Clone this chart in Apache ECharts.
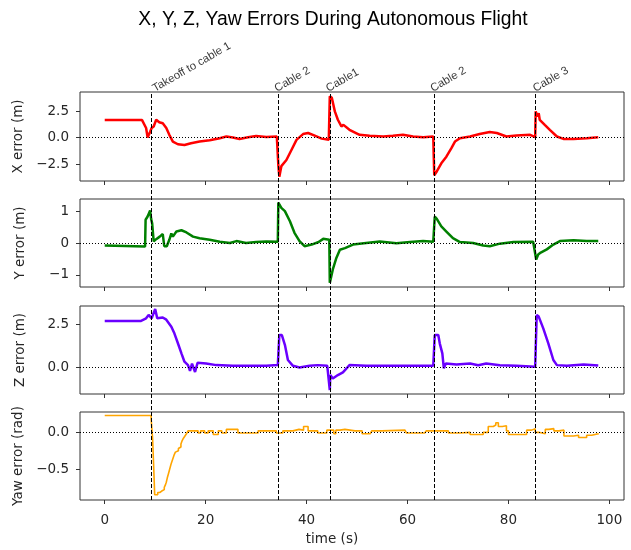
<!DOCTYPE html>
<html>
<head>
<meta charset="utf-8">
<script src="https://cdn.jsdelivr.net/npm/echarts@6/dist/echarts.min.js"></script>
<style>html,body{margin:0;padding:0;background:#fff}#c{width:631px;height:550px}</style>
</head>
<body>
<div id="c"></div>
<script>
// ---- data ----
const xErrT = [0,7.4,8.2,8.5,9.0,9.3,9.7,10.2,10.8,11.5,12.2,12.8,13.5,14.5,15.8,17.1,18.8,20.8,22.8,24.1,25.4,26.7,28.4,30,32,34.1,34.4,34.6,35,36,37,38,39.3,40.3,41.5,43,44.4,44.6,45,45.6,46.2,46.9,47.3,48.5,50.5,52.5,55.2,57.1,59.1,61.1,63.1,65.1,65.3,65.8,66.7,67.7,68.7,69.4,70.4,72.4,74.3,76.3,77.7,79.6,81.6,84.3,85.3,85.4,85.7,86.0,86.2,87.2,88.2,89.6,90.9,92.9,95.5,97.8];
const xErrV = [1.65,1.65,0.9,0.0,0.55,0.9,1.05,1.68,1.45,1.35,0.9,0.26,-0.38,-0.63,-0.7,-0.53,-0.38,-0.25,-0.06,0.1,0.0,-0.13,0.03,0.15,0.06,0.1,-2.6,-3.7,-2.7,-2.12,-1.17,-0.22,0.33,0.43,0.2,-0.1,-0.2,3.9,3.75,2.47,1.68,1.05,1.2,0.73,0.26,0.16,0.1,0.16,0.26,0.1,0.03,0.1,-3.55,-3.2,-2.43,-1.8,-1.0,-0.38,-0.06,0.1,0.33,0.52,0.43,0.1,0.2,0.26,0.03,2.47,1.99,2.3,1.68,1.2,0.73,0.1,-0.13,-0.13,-0.06,0.03];

const yErrT = [0,8.0,8.1,8.5,9.0,9.2,9.4,9.7,10.2,10.9,11.5,11.8,12.3,12.8,13.2,13.5,14.2,15.2,16.2,17.5,18.8,20.8,22.8,24.8,26.1,28,30,32,34.3,34.4,35,35.7,36.7,37.6,38.6,39.6,41,42.4,43.3,44.5,44.6,44.9,45.2,45.9,46.6,47.6,49.2,51.8,54.5,57.8,60.5,63.1,65.1,65.4,65.8,66.7,67.7,69,70.4,73,75,76.3,78.3,81,84.9,85.5,85.9,86.4,87.6,88.9,90.2,92.9,95.5,97.8];
const yErrV = [-0.08,-0.11,0.73,0.83,1.02,0.75,0.62,0.05,0.12,0.2,0.28,-0.1,-0.1,0.1,0.3,0.2,0.36,0.4,0.33,0.2,0.15,0.1,0.04,0.0,0.06,0.0,0.03,0.05,0.04,1.27,1.1,1.0,0.68,0.32,0.06,-0.1,-0.05,0.03,0.13,0.1,-1.25,-1.2,-0.83,-0.47,-0.21,-0.16,-0.05,0.0,0.05,-0.01,0.03,0.06,0.04,0.83,0.76,0.52,0.36,0.15,0.03,0.0,-0.08,-0.1,-0.02,0.03,0.04,-0.52,-0.36,-0.3,-0.2,-0.05,0.06,0.09,0.06,0.06];

const zErrT = [0,7.1,8.2,8.7,9.3,10.0,10.4,11.5,12.2,13.2,13.8,14.5,15.2,15.8,16.5,16.9,17.3,17.9,18.4,20.1,22.1,25.4,28.7,32,34.3,34.6,35.1,35.7,36.3,37.3,38.6,40.6,42.2,44.1,44.6,44.7,45.2,46.2,47.2,48.5,51.8,55.2,58.5,61.8,65.1,65.4,66.1,66.4,66.9,67.2,67.6,69.7,72.4,74,75.6,78.3,81.6,85.3,85.6,86,86.9,87.9,88.9,89.6,91.6,94.9,97.8];
const zErrV = [2.69,2.69,2.85,3.05,2.85,3.4,2.85,2.9,2.77,2.36,1.97,1.39,0.8,0.31,0.11,-0.23,0.2,-0.29,0.25,0.21,0.11,0.07,0.07,0.07,0.11,1.87,1.87,1.3,0.41,0.07,-0.03,0.07,0.11,0.07,-1.35,-0.47,-0.67,-0.47,-0.31,0.11,0.07,0.07,0.07,0.07,0.07,1.87,1.87,1.37,0.8,-0.08,0.2,0.15,0.2,0.1,0.2,0.1,0.07,0.01,3.04,2.95,2.26,1.38,0.41,0.11,0.07,0.15,0.09];

const yawErrT = [0,8.7,9.2,9.5,9.7,9.9,10.2,10.5,10.9,11.3,11.5,11.8,12.0,12.2,12.4,12.6,12.8,13.0,13.2,13.4,13.6,13.8,14.0,14.3,14.6,14.9,15.1,15.3,15.6,15.9,16.2,16.5,17.5,18.5,19.0,19.8,20.5,21.5,22.5,23.2,24.1,25.4,26.4,30,30.4,33.3,34,35.3,37.3,38.5,39.4,40.3,42.2,43.6,44.0,45.4,45.8,46.6,47.6,49.6,51,52.6,52.9,54.9,59.5,59.8,63.4,63.7,67.7,68.1,70.4,72.4,73.7,75,76,77,77.5,78,78.8,79.6,80,82.9,83.6,84.6,85.3,86,87.3,88,89,90,91,91.6,92.9,93.9,95.5,96.5,97.8];
const yawErrV = [0.23,0.23,0.18,-0.1,-0.47,-0.85,-0.85,-0.82,-0.8,-0.8,-0.78,-0.75,-0.72,-0.68,-0.62,-0.57,-0.52,-0.47,-0.42,-0.38,-0.34,-0.3,-0.27,-0.25,-0.22,-0.2,-0.16,-0.12,-0.08,-0.05,-0.02,0.02,0.02,-0.01,0.02,-0.01,0.02,-0.03,0.02,-0.01,0.04,0.04,-0.01,-0.01,0.02,0.02,-0.01,0.02,0.04,0.03,0.08,0.02,-0.01,-0.01,0.03,-0.02,0.03,0.04,0.02,0.02,-0.02,-0.02,0.02,0.03,0.02,-0.01,-0.01,0.02,0.02,-0.01,0.0,-0.03,-0.03,0.0,0.08,0.1,0.13,0.08,0.09,0.02,-0.03,-0.03,0.03,0.05,0.0,-0.02,0.04,0.05,0.02,0.03,-0.05,-0.05,-0.04,-0.07,-0.04,-0.02,-0.03];

const eventTimes = [9.2, 34.4, 44.6, 65.3, 85.4];
const eventLabels = ['Takeoff to cable 1', 'Cable 2', 'Cable1', 'Cable 2', 'Cable 3'];
const eventLabelTimes = [9.2, 33.4, 43.6, 64.3, 84.6];

const xTicks = [0, 20, 40, 60, 80, 100];
const yTicksX = [-2.5, 0, 2.5];
const yTicksY = [-1, 0, 1];
const yTicksZ = [0, 2.5];
const yTicksYaw = [-0.5, 0];
const yNames = ['X error (m)', 'Y error (m)', 'Z error (m)', 'Yaw error (rad)'];

// ---- chart ----
const pair = (t, v) => t.map((x, i) => [x, v[i]]);
const series = [pair(xErrT, xErrV), pair(yErrT, yErrV), pair(zErrT, zErrV), pair(yawErrT, yawErrV)];
const colors = ['#ff0000', '#008000', '#6a00ff', '#ffa500'];
const widths = [2.5, 2.5, 2.5, 1.6];
const ranges = [[-4.1, 4.3], [-1.38, 1.38], [-1.58, 3.57], [-0.922, 0.277]];
const yTicks = [yTicksX, yTicksY, yTicksZ, yTicksYaw];
const gridTops = [92, 199, 306, 412];
const gridH = [89, 88, 88, 88];
const X_MIN = -4.9, X_MAX = 102.9;
const tickFont = {fontFamily: 'DejaVu Sans', fontSize: 13.5, color: '#262626'};

const grid = [], xAxis = [], yAxis = [], s = [];
for (let i = 0; i < 4; i++) {
  grid.push({left: 80, right: 7, top: gridTops[i], height: gridH[i], show: true, borderColor: '#333', borderWidth: 1, backgroundColor: 'transparent'});
  xAxis.push({type: 'value', gridIndex: i, min: X_MIN, max: X_MAX, position: 'bottom',
    axisLine: {show: false, onZero: false}, splitLine: {show: false},
    axisTick: {show: true, length: 4, inside: false, customValues: xTicks, lineStyle: {color: '#333'}},
    axisLabel: {show: i === 3, customValues: xTicks, margin: 13, ...tickFont}});
  const yt = yTicks[i];
  yAxis.push({type: 'value', gridIndex: i, min: ranges[i][0], max: ranges[i][1], position: 'left',
    axisLine: {show: false, onZero: false}, splitLine: {show: false},
    axisTick: {show: true, length: 4, inside: false, customValues: yt, lineStyle: {color: '#333'}},
    axisLabel: {show: true, customValues: yt, margin: 11, ...tickFont,
      formatter: v => { const a = Math.abs(v); const txt = (i === 1) ? String(Math.round(a)) : a.toFixed(1); return (v < -1e-9 ? '\u2212' : '') + txt; }},
    name: yNames[i], nameLocation: 'middle', nameGap: 53, nameRotate: 90,
    nameTextStyle: {fontFamily: 'DejaVu Sans', fontSize: 13.5, color: '#262626'}});
  s.push({type: 'line', xAxisIndex: i, yAxisIndex: i, data: series[i], showSymbol: false,
    step: i === 3 ? 'end' : false,
    lineStyle: {color: colors[i], width: widths[i]}, itemStyle: {color: colors[i]},
    markLine: {silent: true, symbol: ['none', 'none'], label: {show: false},
      lineStyle: {color: '#000', type: [1, 2], width: 1}, data: [{yAxis: 0}]},
    z: 2});
}
// overlay grid for the full-height event lines and their labels
grid.push({left: 80, right: 7, top: 92, height: 408, show: false});
xAxis.push({type: 'value', gridIndex: 4, min: X_MIN, max: X_MAX, show: false});
yAxis.push({type: 'value', gridIndex: 4, min: 0, max: 1, show: false});
s.push({type: 'scatter', xAxisIndex: 4, yAxisIndex: 4, symbolSize: 0, silent: true, z: 5,
  data: eventLabelTimes.map((t, i) => ({value: [t, 1], name: eventLabels[i]})),
  label: {show: true, formatter: p => p.name, position: [5, 2], align: 'left', verticalAlign: 'bottom',
    rotate: 30, fontFamily: 'Liberation Sans', fontSize: 11.3, color: '#000'},
  markLine: {silent: true, symbol: ['none', 'none'], label: {show: false},
    lineStyle: {color: '#000', type: [4, 2], width: 1},
    data: eventTimes.map(t => ({xAxis: t}))}});

const chart = echarts.init(document.getElementById('c'), null, {renderer: 'canvas'});
chart.setOption({
  animation: false,
  backgroundColor: '#fff',
  title: [
    {text: 'X, Y, Z, Yaw Errors During Autonomous Flight', left: 333, top: 10, textAlign: 'center', padding: 0,
      textStyle: {fontFamily: 'Liberation Sans', fontSize: 19.3, fontWeight: 'normal', color: '#000'}},
    {text: 'time (s)', left: 332, top: 532, textAlign: 'center', padding: 0,
      textStyle: {fontFamily: 'DejaVu Sans', fontSize: 13.5, fontWeight: 'normal', color: '#262626'}}
  ],
  grid, xAxis, yAxis, series: s
});
</script>
</body>
</html>
